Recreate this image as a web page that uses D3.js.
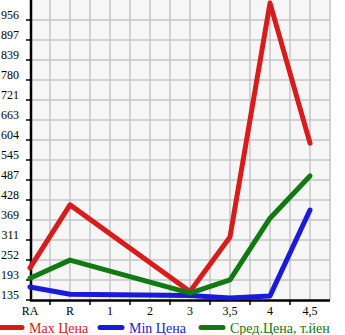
<!DOCTYPE html>
<html>
<head>
<meta charset="utf-8">
<script src="https://cdn.jsdelivr.net/npm/d3@7"></script>
<style>
  body { margin: 0; background: #fff; }
  svg { display: block; font-family: "Liberation Serif", "DejaVu Serif", serif; }
</style>
</head>
<body>
<div id="chart"></div>
<script>
// chart values
var categories = ["RA", "R", "1", "2", "3", "3,5", "4", "4,5"];
var maxPrice = [229, 414, null, null, 160, 320, 1006, 595];
var minPrice = [173, 152, null, null, 148, 141, 147, 399];
var avgPrice = [199, 252, null, null, 155, 194, 375, 499];
var yTicks = [135, 193, 252, 311, 369, 428, 487, 545, 604, 663, 721, 780, 839, 897, 956];
var seriesNames = ["Max Цена", "Min Цена", "Сред.Цена, т.йен"];

var width = 345, height = 335;
var colors = ["#d81c1c", "#1a1ad8", "#0f7a0f"];

var svg = d3.select("#chart").append("svg")
	.attr("width", width)
	.attr("height", height);

// x: category index, y: price
var x = d3.scaleLinear().domain([0, 7.5]).range([30, 330]);
var y = d3.scaleLinear().domain([135, 1015]).range([300, 0]);

// plot background
svg.append("rect")
	.attr("x", x(0)).attr("y", y(1015))
	.attr("width", x(7.5) - x(0)).attr("height", y(135) - y(1015))
	.attr("fill", "#f6f6f6");

// grid
var grid = svg.append("g").attr("stroke", "#c4c4c4").attr("stroke-width", 1.5);
grid.selectAll("line.v")
	.data(d3.range(0.5, 7.51, 0.5))
	.enter().append("line")
	.attr("x1", d => x(d)).attr("x2", d => x(d))
	.attr("y1", y(1015)).attr("y2", y(135));
grid.selectAll("line.h")
	.data(yTicks.slice(1))
	.enter().append("line")
	.attr("x1", x(0)).attr("x2", x(7.5))
	.attr("y1", (d, i) => y(135 + (i + 1) * 58.667))
	.attr("y2", (d, i) => y(135 + (i + 1) * 58.667));

// y axis labels + ticks
var yAx = svg.append("g");
yAx.selectAll("text")
	.data(yTicks)
	.enter().append("text")
	.attr("x", 19)
	.attr("y", (d, i) => y(135 + i * 58.667) - 1)
	.attr("text-anchor", "end")
	.attr("font-size", 12)
	.attr("fill", "#000")
	.text(d => d);
yAx.selectAll("line")
	.data(yTicks)
	.enter().append("line")
	.attr("x1", 26).attr("x2", 31)
	.attr("y1", (d, i) => y(135 + i * 58.667))
	.attr("y2", (d, i) => y(135 + i * 58.667))
	.attr("stroke", "#000").attr("stroke-width", 1.5);

// x axis labels + ticks
var xAx = svg.append("g");
xAx.selectAll("text")
	.data(categories)
	.enter().append("text")
	.attr("x", (d, i) => x(i))
	.attr("y", 315)
	.attr("text-anchor", "middle")
	.attr("font-size", 12)
	.attr("fill", "#000")
	.text(d => d);
xAx.selectAll("line")
	.data(d3.range(0.5, 7, 1))
	.enter().append("line")
	.attr("x1", d => x(d)).attr("x2", d => x(d))
	.attr("y1", 300).attr("y2", 305)
	.attr("stroke", "#000").attr("stroke-width", 1.5);

// axis lines
svg.append("line")
	.attr("x1", 31).attr("x2", 31).attr("y1", 0).attr("y2", 301)
	.attr("stroke", "#000").attr("stroke-width", 2.5);
svg.append("line")
	.attr("x1", 30).attr("x2", x(7.5)).attr("y1", 300.5).attr("y2", 300.5)
	.attr("stroke", "#000").attr("stroke-width", 2.5);

// lines
var line = d3.line()
	.x(d => x(d.i))
	.y(d => y(d.v));

[maxPrice, minPrice, avgPrice].forEach(function(values, k) {
	var pts = values.map((v, i) => ({ i: i, v: v })).filter(d => d.v != null);
	svg.append("path")
		.datum(pts)
		.attr("d", line)
		.attr("fill", "none")
		.attr("stroke", colors[k])
		.attr("stroke-width", 5)
		.attr("stroke-linejoin", "round")
		.attr("stroke-linecap", "round");
});

// legend
var legendX = [3, 103, 204];
var leg = svg.append("g").selectAll("g")
	.data(seriesNames)
	.enter().append("g")
	.attr("transform", (d, i) => "translate(" + legendX[i] + ",0)");
leg.append("line")
	.attr("x1", -3).attr("x2", 19)
	.attr("y1", 327.5).attr("y2", 327.5)
	.attr("stroke", (d, i) => colors[i])
	.attr("stroke-width", 5)
	.attr("stroke-linecap", "round");
leg.append("text")
	.attr("x", 26)
	.attr("y", 333)
	.attr("font-size", 14)
	.attr("fill", (d, i) => colors[i])
	.text(d => d);
</script>
</body>
</html>
